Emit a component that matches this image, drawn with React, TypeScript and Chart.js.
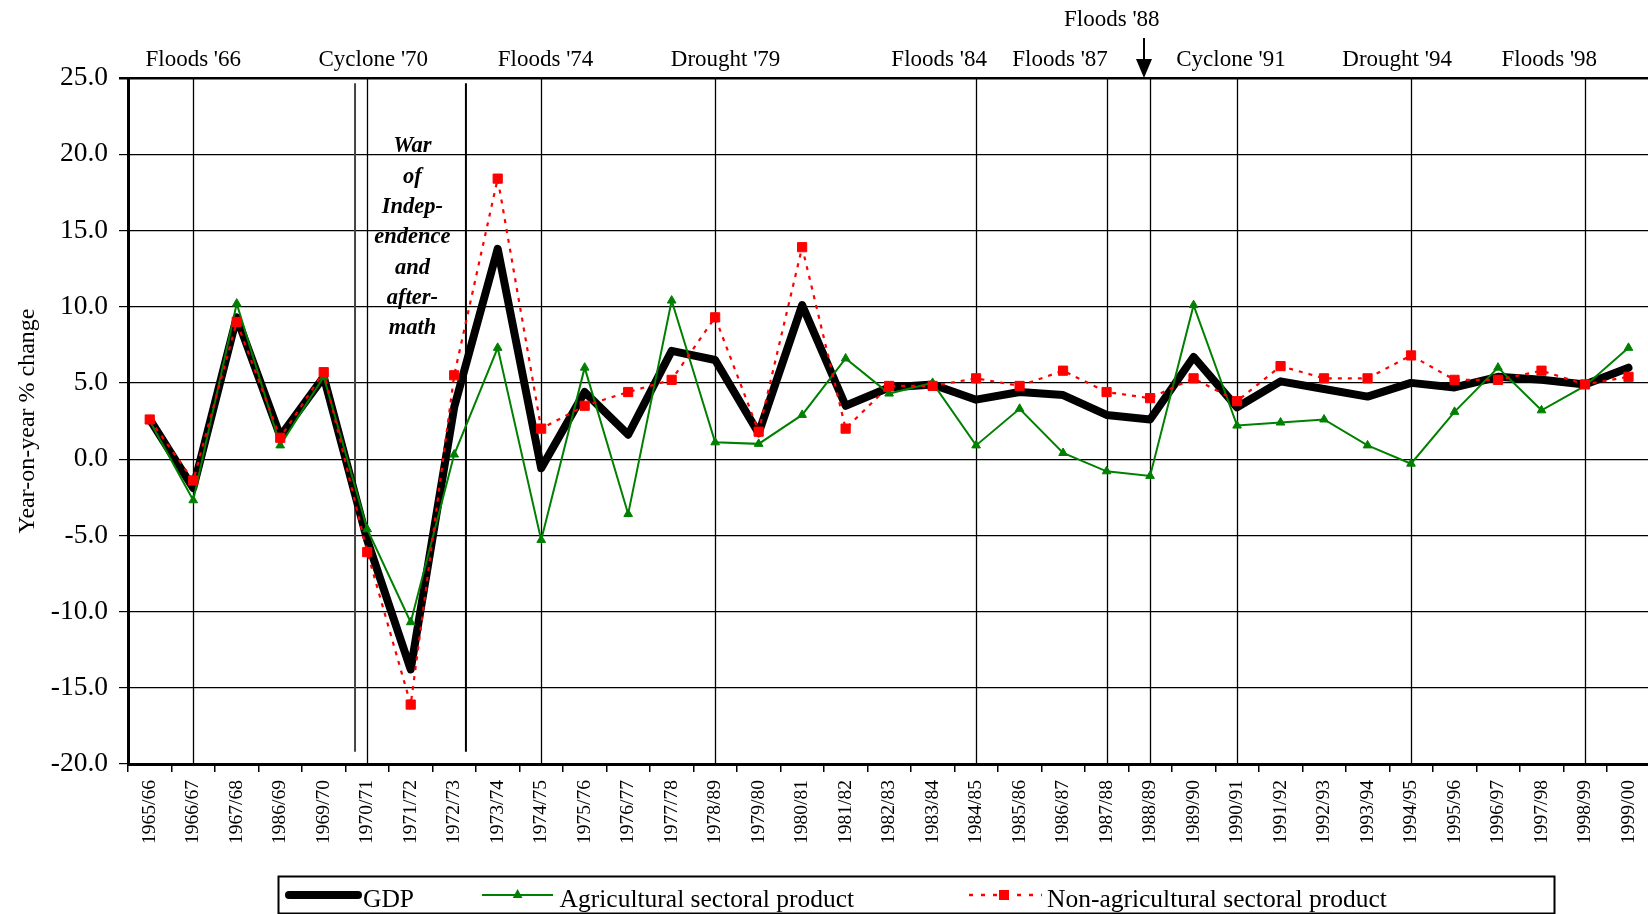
import React, { useEffect, useRef } from 'react';
import { Chart, registerables } from 'chart.js';

Chart.register(...registerables);

const FONT = '"Liberation Serif", "Times New Roman", Times, serif';

const categories = [
  '1965/66', '1966/67', '1967/68', '1986/69', '1969/70', '1970/71', '1971/72', '1972/73', '1973/74', '1974/75',
  '1975/76', '1976/77', '1977/78', '1978/89', '1979/80', '1980/81', '1981/82', '1982/83', '1983/84', '1984/85',
  '1985/86', '1986/87', '1987/88', '1988/89', '1989/90', '1990/91', '1991/92', '1992/93', '1993/94', '1994/95',
  '1995/96', '1996/97', '1997/98', '1998/99', '1999/00',
];

const gdp = [
  2.6, -1.9, 9.3, 1.5, 5.4, -5.3, -13.8, 3.4, 13.8, -0.6,
  4.4, 1.6, 7.1, 6.5, 1.7, 10.1, 3.5, 4.7, 4.9, 3.9,
  4.4, 4.2, 2.9, 2.6, 6.7, 3.4, 5.1, 4.6, 4.1, 5.0,
  4.7, 5.4, 5.2, 4.9, 6.0,
];

const agri = [
  2.5, -2.7, 10.2, 0.9, 5.4, -4.6, -10.7, 0.3, 7.3, -5.3,
  6.0, -3.6, 10.4, 1.1, 1.0, 2.9, 6.6, 4.3, 5.0, 0.9,
  3.3, 0.4, -0.8, -1.1, 10.1, 2.2, 2.4, 2.6, 0.9, -0.3,
  3.1, 6.0, 3.2, 4.8, 7.3,
];

const nonAgri = [
  2.6, -1.4, 9.0, 1.4, 5.7, -6.1, -16.1, 5.5, 18.4, 2.0,
  3.5, 4.4, 5.2, 9.3, 1.8, 13.9, 2.0, 4.8, 4.8, 5.3,
  4.8, 5.8, 4.4, 4.0, 5.3, 3.8, 6.1, 5.3, 5.3, 6.8,
  5.2, 5.2, 5.8, 4.9, 5.4,
];

const seriesNames = ['GDP', 'Agricultural sectoral product', 'Non-agricultural sectoral product'];

const yMin = -20;
const yMax = 25;
const yStep = 5;

// event markers (category indices)
const eventLineIndices = [1, 5, 9, 13, 19, 22, 23, 25, 29, 33];
const eventLabels = ["Floods '66", "Cyclone '70", "Floods '74", "Drought '79", "Floods '84", "Floods '87", "Floods '88", "Cyclone '91", "Drought '94", "Floods '98"];
const eventLabelIndex = [1.0, 5.14, 9.1, 13.24, 18.15, 20.93, 22.12, 24.86, 28.68, 32.18];
const eventLabelRow = [0, 0, 0, 0, 0, 0, 1, 0, 0, 0];
const arrowIndex = 22.86;
const warBoundaries = [4.72, 7.27];
const warBoundaryValues = [24.65, -19.2];
const warText = ['War', 'of', 'Indep-', 'endence', 'and', 'after-', 'math'];
const warTextIndex = 6.04;
const warTextTopValue = 20.5;

const overlayPlugin = {
  id: 'overlay',
  beforeDatasetsDraw(chart: any) {
    const { ctx, chartArea } = chart;
    const xs = chart.scales.x;
    const ys = chart.scales.y;
    ctx.save();
    ctx.strokeStyle = '#000';
    ctx.lineWidth = 1.3;
    eventLineIndices.forEach((i) => {
      const px = Math.round(xs.getPixelForValue(i)) + 0.5;
      ctx.beginPath();
      ctx.moveTo(px, chartArea.top);
      ctx.lineTo(px, chartArea.bottom);
      ctx.stroke();
    });
    warBoundaries.forEach((v, k) => {
      ctx.strokeStyle = k === 0 ? '#444' : '#000';
      ctx.lineWidth = 2;
      const px = xs.getPixelForValue(v);
      ctx.beginPath();
      ctx.moveTo(px, ys.getPixelForValue(warBoundaryValues[0]));
      ctx.lineTo(px, ys.getPixelForValue(warBoundaryValues[1]));
      ctx.stroke();
    });
    ctx.fillStyle = '#000';
    ctx.font = `italic bold 22.5px ${FONT}`;
    ctx.textAlign = 'center';
    ctx.textBaseline = 'middle';
    const wx = xs.getPixelForValue(warTextIndex);
    const wy0 = ys.getPixelForValue(warTextTopValue);
    warText.forEach((t, k) => ctx.fillText(t, wx, wy0 + k * 30.3));
    ctx.restore();
  },
  afterDraw(chart: any) {
    const { ctx, chartArea } = chart;
    const xs = chart.scales.x;
    ctx.save();
    // event labels above the plot
    ctx.fillStyle = '#000';
    ctx.font = `23px ${FONT}`;
    ctx.textAlign = 'center';
    ctx.textBaseline = 'alphabetic';
    eventLabels.forEach((t, k) => {
      const px = xs.getPixelForValue(eventLabelIndex[k]);
      const py = eventLabelRow[k] === 0 ? chartArea.top - 12 : chartArea.top - 52;
      ctx.fillText(t, px, py);
    });
    // arrow for Floods '88
    const ax = xs.getPixelForValue(arrowIndex);
    ctx.strokeStyle = '#000';
    ctx.lineWidth = 2;
    ctx.beginPath();
    ctx.moveTo(ax, chartArea.top - 40);
    ctx.lineTo(ax, chartArea.top - 18);
    ctx.stroke();
    ctx.beginPath();
    ctx.moveTo(ax - 8, chartArea.top - 19);
    ctx.lineTo(ax + 8, chartArea.top - 19);
    ctx.lineTo(ax, chartArea.top);
    ctx.closePath();
    ctx.fill();

    // legend
    const ds = chart.data.datasets;
    ctx.lineWidth = 2;
    ctx.strokeStyle = '#000';
    ctx.strokeRect(278.5, 876.5, 1276, 37);
    const ly = 895;
    const textY = 907;
    ctx.font = `25.5px ${FONT}`;
    ctx.textAlign = 'left';
    // GDP
    ctx.save();
    ctx.strokeStyle = ds[0].borderColor;
    ctx.lineWidth = 8;
    ctx.lineCap = 'round';
    ctx.beginPath();
    ctx.moveTo(289, ly);
    ctx.lineTo(358, ly);
    ctx.stroke();
    ctx.restore();
    ctx.fillText(ds[0].label, 363, textY);
    // Agri
    ctx.save();
    ctx.strokeStyle = ds[1].borderColor;
    ctx.lineWidth = 2;
    ctx.beginPath();
    ctx.moveTo(482, ly);
    ctx.lineTo(553, ly);
    ctx.stroke();
    ctx.fillStyle = ds[1].borderColor;
    ctx.beginPath();
    ctx.moveTo(517.6, ly - 6);
    ctx.lineTo(522.5, ly + 3);
    ctx.lineTo(512.7, ly + 3);
    ctx.closePath();
    ctx.fill();
    ctx.restore();
    ctx.fillText(ds[1].label, 559.6, textY);
    // Non-agri
    ctx.save();
    ctx.strokeStyle = ds[2].borderColor;
    ctx.lineWidth = 2.5;
    ctx.setLineDash([4, 8]);
    ctx.beginPath();
    ctx.moveTo(969, ly);
    ctx.lineTo(1042, ly);
    ctx.stroke();
    ctx.setLineDash([]);
    ctx.fillStyle = ds[2].borderColor;
    ctx.fillRect(999, ly - 5, 10, 10);
    ctx.restore();
    ctx.fillText(ds[2].label, 1047, textY);
    ctx.restore();
  },
};

export default function App() {
  const canvasRef = useRef<HTMLCanvasElement | null>(null);

  useEffect(() => {
    document.body.style.margin = '0';
    const canvas = canvasRef.current;
    if (!canvas) return;
    const chart = new Chart(canvas, {
      type: 'line',
      data: {
        labels: categories,
        datasets: [
          {
            label: seriesNames[0],
            data: gdp,
            borderColor: '#000000',
            backgroundColor: '#000000',
            borderWidth: 8,
            pointRadius: 0,
            borderJoinStyle: 'round',
            borderCapStyle: 'round',
            tension: 0,
            order: 3,
          },
          {
            label: seriesNames[1],
            data: agri,
            borderColor: '#008000',
            backgroundColor: '#008000',
            borderWidth: 2,
            pointStyle: 'triangle',
            pointRadius: 5,
            pointBackgroundColor: '#008000',
            pointBorderColor: '#008000',
            pointBorderWidth: 1,
            tension: 0,
            order: 2,
          },
          {
            label: seriesNames[2],
            data: nonAgri,
            borderColor: '#ff0000',
            backgroundColor: '#ff0000',
            borderWidth: 2.2,
            borderDash: [4, 6],
            pointStyle: 'rect',
            pointRadius: 6.5,
            pointBackgroundColor: '#ff0000',
            pointBorderColor: '#ff0000',
            pointBorderWidth: 1,
            tension: 0,
            order: 1,
          },
        ],
      },
      options: {
        responsive: true,
        maintainAspectRatio: false,
        animation: false,
        layout: { padding: { top: 78, right: 7.4, left: 0, bottom: 0 } },
        plugins: {
          legend: { display: false },
          tooltip: { enabled: false },
        },
        scales: {
          x: {
            type: 'category',
            offset: true,
            grid: {
              offset: true,
              drawOnChartArea: false,
              drawTicks: true,
              tickLength: 8,
              color: '#000',
              lineWidth: 1.5,
            },
            border: { display: true, color: '#000', width: 3 },
            ticks: {
              autoSkip: false,
              maxRotation: 90,
              minRotation: 90,
              padding: 8,
              color: '#000',
              font: { family: FONT, size: 19.5 },
            },
            afterFit: (s: any) => {
              s.height = 150;
            },
          },
          y: {
            min: yMin,
            max: yMax,
            ticks: {
              stepSize: yStep,
              callback: (v: any) => Number(v).toFixed(1),
              padding: 11,
              color: '#000',
              font: { family: FONT, size: 27.5 },
            },
            grid: {
              color: '#000',
              lineWidth: (c: any) => (c.tick && c.tick.value === yMax ? 2.5 : 1.2),
              tickLength: 9,
              drawTicks: true,
            },
            border: { display: true, color: '#000', width: 3 },
            title: {
              display: true,
              text: 'Year-on-year % change',
              color: '#000',
              font: { family: FONT, size: 24 },
              padding: { top: 13, bottom: 0 },
            },
            afterFit: (s: any) => {
              s.width = 128;
            },
          },
        },
      },
      plugins: [overlayPlugin],
    } as any);
    return () => chart.destroy();
  }, []);

  return (
    <div style={{ position: 'fixed', left: 0, top: 0, width: 1648, height: 914, overflow: 'hidden', background: '#fff' }}>
      <div style={{ position: 'absolute', left: 0, top: 0, width: 1660, height: 914 }}>
        <canvas ref={canvasRef} />
      </div>
    </div>
  );
}
